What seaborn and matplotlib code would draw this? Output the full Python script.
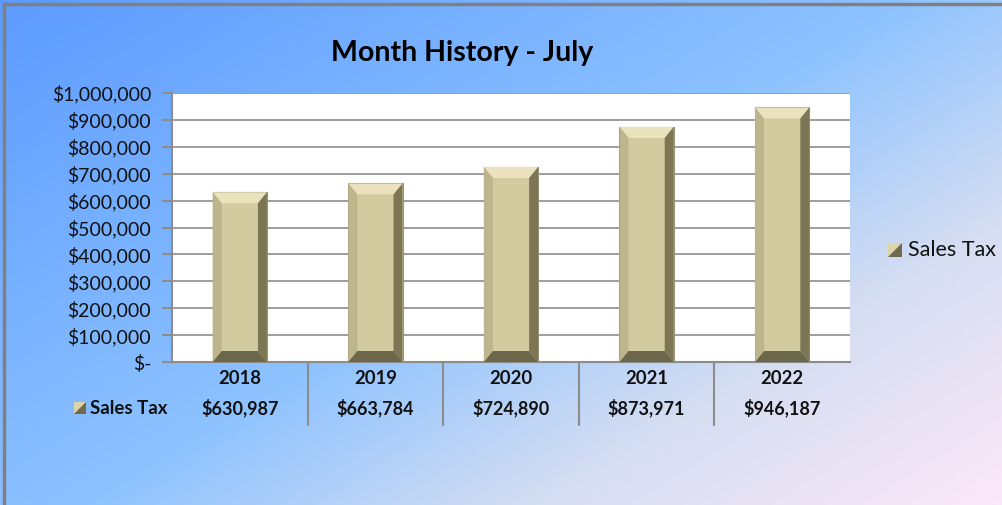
import numpy as np
import matplotlib
matplotlib.use("Agg")
import matplotlib.pyplot as plt
import seaborn as sns
from matplotlib.patches import Polygon, Rectangle
from matplotlib.colors import LinearSegmentedColormap

# data
years = ["2018", "2019", "2020", "2021", "2022"]
sales_tax = [630987, 663784, 724890, 873971, 946187]
series_name = "Sales Tax"
chart_title = "Month History - July"

W, H = 1003, 505
sns.set_theme(style="white")
plt.rcParams['font.family'] = ['Lato', 'DejaVu Sans']

fig = plt.figure(figsize=(W / 100, H / 100), dpi=100)

# gradient background
bg = fig.add_axes([0, 0, 1, 1], zorder=0)
gx, gy = np.meshgrid(np.linspace(0, 1, 400), np.linspace(0, 1, 200))
t = (gx * 0.55 + gy * 0.45)
cmap = LinearSegmentedColormap.from_list(
    "bg", [(0, "#5c9bff"), (0.5, "#8ec3ff"), (0.75, "#d6def2"), (1, "#fbe8f8")])
bg.imshow(t, cmap=cmap, aspect="auto", extent=[0, 1, 0, 1], origin="upper")
bg.set_xlim(0, 1)
bg.set_ylim(0, 1)
bg.axis("off")
# outer border
fig.patches.append(Rectangle((4 / W, -0.1), 1.2, 1 - 4 / H + 0.1, transform=fig.transFigure,
                             fill=False, edgecolor="#808080", linewidth=2.5, zorder=1))

# main plot
ax = fig.add_axes([172 / W, 1 - 362 / H, (850 - 172) / W, (362 - 93) / H], zorder=2)
ax.set_facecolor("white")
base = "#d3cba0"
sns.barplot(x=years, y=sales_tax, color=base, width=0.4, saturation=1, ax=ax, zorder=3)
ax.set_ylim(0, 1000000)
ax.set_xlim(-0.5, 4.5)
ax.set_yticks(np.arange(0, 1000001, 100000))
ax.set_yticklabels(["$-"] + [f"${v:,.0f}" for v in np.arange(100000, 1000001, 100000)])
ax.grid(axis="y", color="#8c8c8c", linewidth=1.2, zorder=0)
ax.set_axisbelow(True)
ax.tick_params(axis="y", left=True, length=7, width=1.5, color="#8c8c8c", labelsize=14,
               pad=8, labelcolor="#111111")
ax.tick_params(axis="x", bottom=False, labelbottom=False)
for s in ["top", "right"]:
    ax.spines[s].set_visible(False)
for s in ["left", "bottom"]:
    ax.spines[s].set_color("#8c8c8c")
    ax.spines[s].set_linewidth(1.5)
ax.set_xlabel("")
ax.set_ylabel("")

# bevel on bars
fig.canvas.draw()
inv = ax.transData.inverted()
bw, bh = 9, 11
for p in ax.patches:
    x0, y0 = p.get_x(), p.get_y()
    x1, y1 = x0 + p.get_width(), y0 + p.get_height()
    (px0, py0), (px1, py1) = ax.transData.transform([(x0, y0), (x1, y1)])
    outer = [(px0, py0), (px1, py0), (px1, py1), (px0, py1)]
    inner = [(px0 + bw, py0 + bh), (px1 - bw, py0 + bh), (px1 - bw, py1 - bh), (px0 + bw, py1 - bh)]
    faces = [
        ([outer[3], outer[2], inner[2], inner[3]], "#e9e2bd"),  # top
        ([outer[0], outer[3], inner[3], inner[0]], "#bdb58c"),  # left
        ([outer[1], outer[2], inner[2], inner[1]], "#7c7654"),  # right
        ([outer[0], outer[1], inner[1], inner[0]], "#6c674a"),  # bottom
    ]
    for pts, c in faces:
        ax.add_patch(Polygon(inv.transform(pts), closed=True, facecolor=c,
                             edgecolor="none", zorder=4))
    p.set_edgecolor("#9a9478")
    p.set_linewidth(0.8)


def key_icon(x, y, size=13):
    # little bevelled legend square, pixel coords from top-left
    x0, y0 = x / W, 1 - (y + size) / H
    x1, y1 = (x + size) / W, 1 - y / H
    fig.patches.append(Polygon([(x0, y0), (x0, y1), (x1, y1)], closed=True,
                               transform=fig.transFigure, facecolor="#ddd5aa",
                               edgecolor="none", zorder=5))
    fig.patches.append(Polygon([(x0, y0), (x1, y0), (x1, y1)], closed=True,
                               transform=fig.transFigure, facecolor="#6f6a4c",
                               edgecolor="none", zorder=5))


# data table under the axis
trans = ax.get_xaxis_transform()
for i, (yr, v) in enumerate(zip(years, sales_tax)):
    ax.text(i, -16 / 269, yr, transform=trans, ha="center", va="center",
            fontsize=13.3, fontweight="bold", color="#111111")
    ax.text(i, -46 / 269, f"${v:,.0f}", transform=trans, ha="center", va="center",
            fontsize=13, fontweight="bold", color="#111111")
for b in np.arange(0.5, len(years) - 0.5, 1):
    ax.plot([b, b], [0, -63 / 269], transform=trans, color="#8c8c8c", linewidth=1.5,
            clip_on=False, zorder=3)
fig.text(90 / W, 1 - 408 / H, series_name, ha="left", va="center", fontsize=13.4,
         fontweight="bold", color="#111111", zorder=6)
key_icon(74, 402, 12)

# legend
key_icon(888, 243, 14)
fig.text(908 / W, 1 - 250 / H, series_name, ha="left", va="center", fontsize=15.5,
         color="#111111", zorder=6)

# title
fig.text(462 / W, 1 - 53 / H, chart_title, ha="center", va="center", fontsize=20.5,
         fontweight="bold", color="black", zorder=6)

fig.savefig("out.png", dpi=100)
